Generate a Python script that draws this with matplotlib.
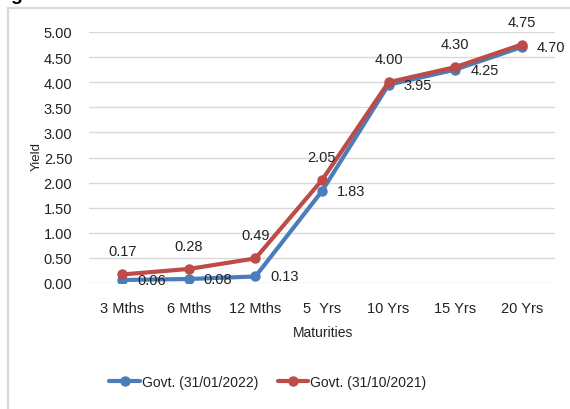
import matplotlib
matplotlib.use("Agg")
import matplotlib.pyplot as plt
from matplotlib.patches import Rectangle

plt.rcParams['font.family'] = ['Liberation Sans', 'DejaVu Sans']

maturities = ["3 Mths", "6 Mths", "12 Mths", "5  Yrs", "10 Yrs", "15 Yrs", "20 Yrs"]
yield_jan22 = [0.06, 0.08, 0.13, 1.83, 3.95, 4.25, 4.70]
yield_oct21 = [0.17, 0.28, 0.49, 2.05, 4.00, 4.30, 4.75]
series_names = ["Govt. (31/01/2022)", "Govt. (31/10/2021)"]
y_ticks = [0.0, 0.5, 1.0, 1.5, 2.0, 2.5, 3.0, 3.5, 4.0, 4.5, 5.0]

BLUE = "#4a7ebb"
RED = "#be4b48"
GRID = "#d9d9d9"
TEXT = "#222222"

W, H = 570, 410
fig = plt.figure(figsize=(W / 100, H / 100), dpi=100)

# outer chart frame
fig.patches.append(Rectangle((7.5 / W, -0.05), 1.2, 1 - 9 / H + 0.05,
                             transform=fig.transFigure, fill=False,
                             edgecolor=GRID, linewidth=1.6))
# descender of the heading above the chart
fig.text(10 / W, 1 - 0.5 / H, "g", fontsize=14, fontweight='bold',
         va='baseline', ha='left', color='black')

ax = fig.add_axes([89 / W, 1 - 284 / H, (555 - 89) / W, (284 - 33) / H])
x = list(range(len(maturities)))

ax.plot(x, yield_jan22, color=BLUE, linewidth=3, marker='o', markersize=6.5,
        label=series_names[0], zorder=3, solid_capstyle='round')
ax.plot(x, yield_oct21, color=RED, linewidth=3, marker='o', markersize=6.5,
        label=series_names[1], zorder=4, solid_capstyle='round')

LABEL_SIZE = 10.5
for xi, v in zip(x, yield_jan22):
    ax.annotate(f"{v:.2f}", (xi, v), xytext=(15, 0), textcoords='offset pixels',
                ha='left', va='center', fontsize=LABEL_SIZE, color=TEXT, zorder=5)
for xi, v in zip(x, yield_oct21):
    ax.annotate(f"{v:.2f}", (xi, v), xytext=(0, 23), textcoords='offset pixels',
                ha='center', va='center', fontsize=LABEL_SIZE, color=TEXT, zorder=5)

ax.set_xlim(-0.5, len(maturities) - 0.5)
ax.set_ylim(0, 5)
ax.set_yticks(y_ticks)
ax.set_yticklabels([f"{t:.2f}" for t in y_ticks])
ax.set_xticks(x)
ax.set_xticklabels(maturities)
ax.tick_params(axis='both', length=0, labelsize=LABEL_SIZE, colors=TEXT)
ax.tick_params(axis='y', pad=12)
ax.tick_params(axis='x', pad=13)
ax.yaxis.grid(True, color=GRID, linewidth=1)
ax.set_axisbelow(True)
for s in ax.spines.values():
    s.set_visible(False)

# axis titles
fig.text(37 / W, 1 - 157 / H, "Yield", rotation=90, ha='center', va='center',
         fontsize=9.5, color=TEXT)
fig.text(323 / W, 1 - 333 / H, "Maturities", ha='center', va='center',
         fontsize=10, color=TEXT)

fig.legend(loc='center', bbox_to_anchor=(268 / W, 1 - 383 / H), ncol=2,
           frameon=False, fontsize=10, handlelength=2.2, handletextpad=0.15,
           columnspacing=1.4, labelcolor=TEXT)

fig.savefig("out.png", dpi=100)
